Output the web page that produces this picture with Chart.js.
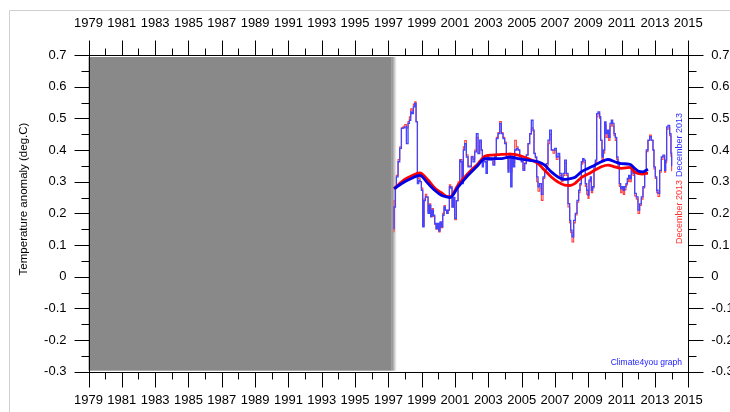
<!DOCTYPE html>
<html>
<head>
<meta charset="utf-8">
<script src="https://cdn.jsdelivr.net/npm/chart.js@4.4.1/dist/chart.umd.min.js"></script>
<style>
html, body { margin: 0; padding: 0; background: #fff; }
canvas { display: block; }
</style>
</head>
<body>
<canvas id="chart" width="730" height="412"></canvas>
<script>
// tick labels
var yearTicks = [1979, 1981, 1983, 1985, 1987, 1989, 1991, 1993, 1995, 1997, 1999,
                 2001, 2003, 2005, 2007, 2009, 2011, 2013, 2015];
var tempTicks = [-0.3, -0.2, -0.1, 0, 0.1, 0.2, 0.3, 0.4, 0.5, 0.6, 0.7];

// shaded "no data" period
var shadeFrom = 1979, shadeTo = 1997.2, shadeFade = 1997.5;

// monthly values (decimal year), two versions of the series
var monthT = [
  1997.34, 1997.42, 1997.48, 1997.58, 1997.68, 1997.78, 1997.88, 1997.98, 1998.08, 1998.18,
  1998.26, 1998.34, 1998.42, 1998.50, 1998.58, 1998.66, 1998.74, 1998.82, 1998.90, 1998.98,
  1999.06, 1999.14, 1999.22, 1999.30, 1999.38, 1999.46, 1999.54, 1999.62, 1999.70, 1999.78,
  1999.86, 1999.94, 2000.02, 2000.10, 2000.18, 2000.26, 2000.34, 2000.42, 2000.50, 2000.58,
  2000.66, 2000.74, 2000.82, 2000.90, 2000.98, 2001.08, 2001.18, 2001.28, 2001.34, 2001.42,
  2001.50, 2001.58, 2001.68, 2001.78, 2001.88, 2001.98, 2002.08, 2002.18, 2002.28, 2002.38,
  2002.48, 2002.58, 2002.64, 2002.70, 2002.78, 2002.86, 2002.94, 2003.02, 2003.10, 2003.18,
  2003.28, 2003.38, 2003.48, 2003.58, 2003.68, 2003.78, 2003.88, 2003.98, 2004.08, 2004.18,
  2004.24, 2004.34, 2004.42, 2004.50, 2004.58, 2004.68, 2004.78, 2004.88, 2004.98, 2005.08,
  2005.18, 2005.28, 2005.38, 2005.48, 2005.58, 2005.68, 2005.74, 2005.82, 2005.90, 2005.98,
  2006.08, 2006.18, 2006.28, 2006.38, 2006.48, 2006.58, 2006.68, 2006.78, 2006.88, 2006.98,
  2007.08, 2007.18, 2007.28, 2007.38, 2007.48, 2007.58, 2007.68, 2007.78, 2007.88, 2007.94,
  2008.02, 2008.12, 2008.22, 2008.32, 2008.42, 2008.50, 2008.58, 2008.66, 2008.74, 2008.82,
  2008.90, 2008.98, 2009.04, 2009.12, 2009.18, 2009.26, 2009.34, 2009.42, 2009.50, 2009.58,
  2009.68, 2009.74, 2009.82, 2009.90, 2009.98, 2010.06, 2010.14, 2010.22, 2010.30, 2010.38,
  2010.46, 2010.54, 2010.62, 2010.70, 2010.78, 2010.86, 2010.94, 2011.02, 2011.10, 2011.18,
  2011.26, 2011.34, 2011.42, 2011.50, 2011.58, 2011.68, 2011.78, 2011.88, 2011.98, 2012.08,
  2012.18, 2012.28, 2012.38, 2012.48, 2012.58, 2012.68, 2012.78, 2012.88, 2012.94, 2013.02,
  2013.10, 2013.18, 2013.28, 2013.38, 2013.48, 2013.58, 2013.64, 2013.70, 2013.78, 2013.88,
  2013.96, 2014.00, 2014.02
];
var blueMonthly = [
  0.15, 0.22, 0.278, 0.315, 0.363, 0.405, 0.468, 0.47, 0.473, 0.42,
  0.484, 0.494, 0.52, 0.515, 0.536, 0.547, 0.489, 0.294, 0.305, 0.30,
  0.273, 0.157, 0.24, 0.252, 0.252, 0.20, 0.226, 0.189, 0.21, 0.194,
  0.168, 0.152, 0.168, 0.145, 0.173, 0.157, 0.194, 0.22, 0.21, 0.20,
  0.21, 0.284, 0.28, 0.22, 0.25, 0.184, 0.24, 0.294, 0.368, 0.363,
  0.294, 0.40, 0.42, 0.378, 0.347, 0.347, 0.378, 0.363, 0.394, 0.452,
  0.389, 0.431, 0.40, 0.347, 0.378, 0.363, 0.326, 0.378, 0.368, 0.373,
  0.368, 0.352, 0.378, 0.436, 0.452, 0.484, 0.452, 0.436, 0.42, 0.378,
  0.33, 0.378, 0.284, 0.378, 0.347, 0.40, 0.405, 0.40, 0.378, 0.363,
  0.336, 0.357, 0.384, 0.42, 0.452, 0.494, 0.463, 0.389, 0.378, 0.315,
  0.284, 0.294, 0.26, 0.315, 0.336, 0.357, 0.431, 0.463, 0.40, 0.40,
  0.405, 0.378, 0.389, 0.326, 0.305, 0.326, 0.368, 0.326, 0.231, 0.178,
  0.147, 0.126, 0.178, 0.20, 0.241, 0.273, 0.294, 0.363, 0.373, 0.368,
  0.294, 0.273, 0.258, 0.305, 0.315, 0.273, 0.284, 0.347, 0.368, 0.515,
  0.52, 0.505, 0.431, 0.378, 0.40, 0.489, 0.452, 0.463, 0.44, 0.484,
  0.494, 0.484, 0.452, 0.44, 0.378, 0.357, 0.294, 0.278, 0.284, 0.273,
  0.284, 0.294, 0.31, 0.32, 0.31, 0.347, 0.326, 0.263, 0.252, 0.21,
  0.23, 0.252, 0.284, 0.336, 0.40, 0.431, 0.442, 0.431, 0.40, 0.347,
  0.315, 0.273, 0.263, 0.336, 0.378, 0.384, 0.336, 0.368, 0.473, 0.478,
  0.452, 0.39, 0.35
];
var redMonthly = [
  0.14, 0.24, 0.285, 0.32, 0.37, 0.41, 0.47, 0.475, 0.48, 0.47,
  0.49, 0.505, 0.53, 0.525, 0.545, 0.552, 0.49, 0.31, 0.326, 0.30,
  0.28, 0.16, 0.245, 0.26, 0.25, 0.205, 0.23, 0.19, 0.215, 0.19,
  0.165, 0.15, 0.165, 0.141, 0.17, 0.155, 0.20, 0.225, 0.21, 0.20,
  0.21, 0.29, 0.285, 0.22, 0.25, 0.18, 0.24, 0.30, 0.37, 0.37,
  0.30, 0.41, 0.43, 0.385, 0.35, 0.35, 0.38, 0.37, 0.40, 0.44,
  0.39, 0.425, 0.40, 0.35, 0.38, 0.37, 0.36, 0.38, 0.37, 0.375,
  0.37, 0.355, 0.38, 0.44, 0.455, 0.49, 0.455, 0.44, 0.425, 0.38,
  0.34, 0.39, 0.33, 0.38, 0.36, 0.431, 0.41, 0.40, 0.38, 0.365,
  0.34, 0.36, 0.385, 0.42, 0.45, 0.47, 0.46, 0.39, 0.375, 0.30,
  0.27, 0.28, 0.241, 0.31, 0.33, 0.35, 0.42, 0.45, 0.40, 0.39,
  0.40, 0.37, 0.38, 0.32, 0.30, 0.32, 0.36, 0.32, 0.22, 0.17,
  0.14, 0.11, 0.17, 0.195, 0.235, 0.265, 0.29, 0.355, 0.365, 0.36,
  0.285, 0.26, 0.247, 0.30, 0.31, 0.265, 0.28, 0.34, 0.36, 0.505,
  0.515, 0.50, 0.43, 0.37, 0.39, 0.48, 0.44, 0.455, 0.43, 0.475,
  0.485, 0.475, 0.445, 0.43, 0.37, 0.35, 0.285, 0.265, 0.275, 0.26,
  0.275, 0.29, 0.30, 0.31, 0.30, 0.34, 0.32, 0.255, 0.245, 0.20,
  0.225, 0.245, 0.28, 0.33, 0.395, 0.43, 0.447, 0.43, 0.40, 0.34,
  0.31, 0.265, 0.253, 0.33, 0.37, 0.38, 0.33, 0.36, 0.465, 0.47,
  0.445, 0.38, 0.335
];

// running means
var smoothT = [
  1997.34, 1997.98, 1998.38, 1998.88, 1999.38, 1999.78, 2000.18, 2000.48, 2000.70, 2001.18,
  2001.78, 2002.38, 2002.78, 2003.18, 2003.78, 2004.30, 2004.78, 2005.38, 2005.98, 2006.38,
  2006.78, 2007.18, 2007.58, 2007.90, 2008.18, 2008.58, 2008.98, 2009.38, 2009.78, 2010.18,
  2010.58, 2010.98, 2011.50, 2011.78, 2011.98, 2012.28, 2012.48, 2012.58
];
var blueSmooth = [
  0.278, 0.30, 0.31, 0.32, 0.294, 0.273, 0.257, 0.252, 0.25, 0.283,
  0.32, 0.352, 0.373, 0.373, 0.373, 0.378, 0.373, 0.368, 0.363, 0.352,
  0.331, 0.315, 0.307, 0.31, 0.313, 0.331, 0.342, 0.352, 0.363, 0.37,
  0.363, 0.357, 0.355, 0.342, 0.334, 0.331, 0.336, 0.339
];
var redSmooth = [
  0.278, 0.307, 0.318, 0.328, 0.305, 0.28, 0.265, 0.254, 0.253, 0.289,
  0.326, 0.357, 0.38, 0.384, 0.386, 0.387, 0.384, 0.373, 0.357, 0.336,
  0.315, 0.299, 0.289, 0.288, 0.294, 0.313, 0.324, 0.336, 0.347, 0.352,
  0.347, 0.342, 0.345, 0.331, 0.326, 0.324, 0.326, 0.326
];

function pairs(xs, ys) {
  return xs.map(function(x, i) { return {x: x, y: ys[i]}; });
}

var FONT = '"Liberation Sans", Arial, sans-serif';

var decor = {
  id: 'decor',
  beforeDatasetsDraw: function(chart) {
    var ctx = chart.ctx, a = chart.chartArea, sx = chart.scales.x;
    var x0 = sx.getPixelForValue(shadeFrom);
    var x1 = sx.getPixelForValue(shadeTo);
    var x2 = sx.getPixelForValue(shadeFade);
    ctx.save();
    ctx.fillStyle = '#898989';
    ctx.fillRect(x0, a.top + 2, x1 - x0, a.bottom - a.top - 3);
    var g = ctx.createLinearGradient(x1, 0, x2, 0);
    g.addColorStop(0, 'rgba(137,137,137,1)');
    g.addColorStop(1, 'rgba(137,137,137,0)');
    ctx.fillStyle = g;
    ctx.fillRect(x1, a.top + 2, x2 - x1, a.bottom - a.top - 3);
    ctx.restore();
  },
  afterDraw: function(chart) {
    var ctx = chart.ctx, a = chart.chartArea;
    var sx = chart.scales.x, sy = chart.scales.y;
    ctx.save();
    // outer frame
    ctx.strokeStyle = '#cfcfcf';
    ctx.lineWidth = 1;
    ctx.beginPath();
    ctx.moveTo(9.5, 412); ctx.lineTo(9.5, 10.5); ctx.lineTo(730, 10.5);
    ctx.stroke();

    // plot box
    ctx.strokeStyle = '#000';
    var L = Math.round(a.left) + 0.5, R = Math.round(a.right) + 0.5;
    var T = Math.round(a.top) + 0.5, B = Math.round(a.bottom) + 0.5;
    ctx.strokeRect(L, T, R - L, B - T);

    // tick marks
    ctx.beginPath();
    for (var yr = 1979; yr <= 2015; yr++) {
      var px = Math.round(sx.getPixelForValue(yr)) + 0.5;
      var len = (yr % 2 === 1) ? 15 : 7;
      ctx.moveTo(px, T); ctx.lineTo(px, T - len);
      ctx.moveTo(px, B); ctx.lineTo(px, B + len);
    }
    for (var k = 0; k <= 20; k++) {
      var v = -0.3 + k * 0.05;
      var py = Math.round(sy.getPixelForValue(v)) + 0.5;
      var l2 = (k % 2 === 0) ? 15 : 8;
      ctx.moveTo(L, py); ctx.lineTo(L - l2, py);
      ctx.moveTo(R, py); ctx.lineTo(R + l2, py);
    }
    ctx.stroke();

    // y title
    ctx.fillStyle = '#000';
    ctx.font = '11.5px ' + FONT;
    ctx.textAlign = 'center';
    ctx.textBaseline = 'middle';
    ctx.translate(24, 199);
    ctx.rotate(-Math.PI / 2);
    ctx.fillText('Temperature anomaly (deg.C)', 0, 0);
    ctx.restore();

    // end-of-series notes
    ctx.save();
    ctx.font = '9px ' + FONT;
    ctx.textAlign = 'center';
    ctx.textBaseline = 'middle';
    ctx.translate(680, 0);
    ctx.rotate(-Math.PI / 2);
    ctx.fillStyle = '#ff3030';
    ctx.fillText('December 2013', -212, 0);
    ctx.fillStyle = '#3030ff';
    ctx.fillText('December 2013', -145, 0);
    ctx.restore();

    ctx.save();
    ctx.font = '8.5px ' + FONT;
    ctx.fillStyle = '#2020ff';
    ctx.textAlign = 'right';
    ctx.textBaseline = 'middle';
    ctx.fillText('Climate4you graph', 682, 363);
    ctx.restore();
  }
};

function fixWidth(w) { return function(s) { s.width = w; }; }
function fixHeight(h) { return function(s) { s.height = h; }; }
function setTicks(list) {
  return function(s) { s.ticks = list.map(function(v) { return {value: v}; }); };
}

var xCommon = {
  type: 'linear', min: 1979, max: 2015,
  grid: {display: false, drawTicks: false}, border: {display: false},
  afterBuildTicks: setTicks(yearTicks),
  ticks: {
    font: {family: FONT, size: 13}, color: '#000', maxRotation: 0, autoSkip: false,
    callback: function(v) { return String(v); }
  }
};
var yCommon = {
  type: 'linear', min: -0.3, max: 0.7,
  grid: {display: false, drawTicks: false}, border: {display: false},
  afterBuildTicks: setTicks(tempTicks),
  ticks: {
    font: {family: FONT, size: 13}, color: '#000',
    callback: function(v) { return String(+v.toFixed(1)); }
  }
};

// Chart.js paints the first dataset on top, so the list runs top to bottom
new Chart(document.getElementById('chart').getContext('2d'), {
  type: 'line',
  data: {
    datasets: [
      {data: pairs(smoothT, blueSmooth), borderColor: '#0000e6', borderWidth: 2.8,
       cubicInterpolationMode: 'monotone', pointRadius: 0, xAxisID: 'x', yAxisID: 'y'},
      {data: pairs(smoothT, redSmooth), borderColor: '#ff0000', borderWidth: 2.8,
       cubicInterpolationMode: 'monotone', pointRadius: 0, xAxisID: 'x', yAxisID: 'y'},
      {data: pairs(monthT, blueMonthly), borderColor: '#4444ff', borderWidth: 1.3,
       stepped: 'after', pointRadius: 0, xAxisID: 'x', yAxisID: 'y'},
      {data: pairs(monthT, redMonthly), borderColor: '#ff4040', borderWidth: 1.1,
       stepped: 'after', pointRadius: 0, xAxisID: 'x', yAxisID: 'y'}
    ]
  },
  options: {
    responsive: false,
    animation: false,
    devicePixelRatio: 1,
    layout: {padding: 0},
    plugins: {legend: {display: false}, tooltip: {enabled: false}},
    scales: {
      x: Object.assign({}, xCommon, {position: 'bottom', afterFit: fixHeight(40.3),
        ticks: Object.assign({}, xCommon.ticks, {padding: 21})}),
      x2: Object.assign({}, xCommon, {position: 'top', afterFit: fixHeight(55),
        ticks: Object.assign({}, xCommon.ticks, {padding: 24})}),
      y: Object.assign({}, yCommon, {position: 'left', afterFit: fixWidth(88.5),
        ticks: Object.assign({}, yCommon.ticks, {padding: 22})}),
      y2: Object.assign({}, yCommon, {position: 'right', afterFit: fixWidth(41.7),
        ticks: Object.assign({}, yCommon.ticks, {padding: 23})})
    }
  },
  plugins: [decor]
});
</script>
</body>
</html>
